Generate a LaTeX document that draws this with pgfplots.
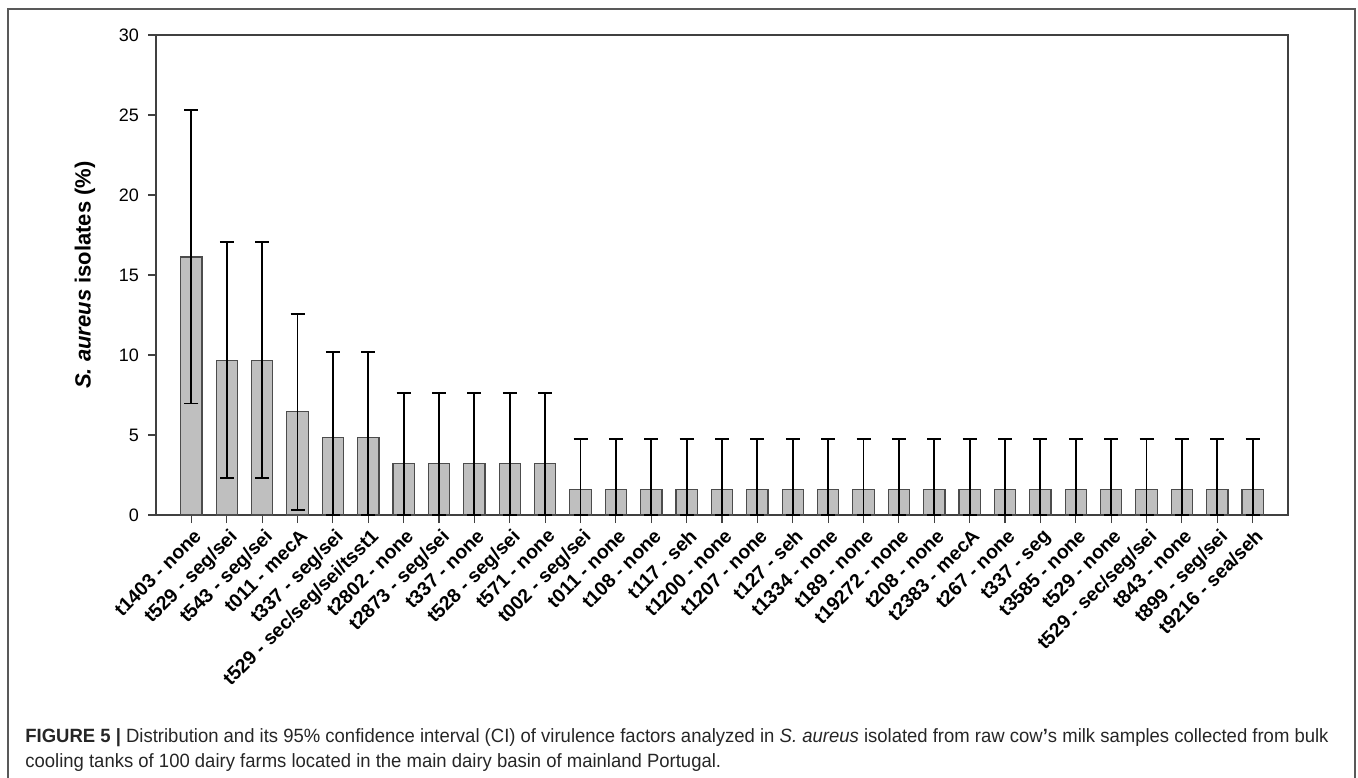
\documentclass[border=0pt]{standalone}
\usepackage{fontspec}
\setmainfont{Liberation Sans}
\newfontfamily\capfont[FakeStretch=0.963]{Liberation Sans}
\usepackage{pgfplots}
\usepackage{pgfplotstable}
\pgfplotsset{compat=1.18}

% share of isolates (%) with 95% CI bounds given as distances from the value
\pgfplotstableread{
x  y      ep    em
0  16.13  9.16  9.16
1  9.68   7.36  7.36
2  9.68   7.36  7.36
3  6.45   6.12  6.12
4  4.84   5.34  4.84
5  4.84   5.34  4.84
6  3.23   4.40  3.23
7  3.23   4.40  3.23
8  3.23   4.40  3.23
9  3.23   4.40  3.23
10 3.23   4.40  3.23
11 1.61   3.14  1.61
12 1.61   3.14  1.61
13 1.61   3.14  1.61
14 1.61   3.14  1.61
15 1.61   3.14  1.61
16 1.61   3.14  1.61
17 1.61   3.14  1.61
18 1.61   3.14  1.61
19 1.61   3.14  1.61
20 1.61   3.14  1.61
21 1.61   3.14  1.61
22 1.61   3.14  1.61
23 1.61   3.14  1.61
24 1.61   3.14  1.61
25 1.61   3.14  1.61
26 1.61   3.14  1.61
27 1.61   3.14  1.61
28 1.61   3.14  1.61
29 1.61   3.14  1.61
30 1.61   3.14  1.61
}\isolates

\begin{document}
\begin{tikzpicture}
\useasboundingbox (0,0) rectangle (679pt,-388.5pt);
\draw[black!65, line width=0.6pt] (4pt,-4.5pt) rectangle (677.5pt,-392pt);
\begin{axis}[
  at={(78pt,-257.5pt)}, anchor=south west,
  width=566pt, height=240pt, scale only axis,
  xmin=-1, xmax=31, ymin=0, ymax=30,
  xtick={0,...,30}, ytick={0,5,...,30},
  xtick pos=left, ytick pos=left,
  tick align=outside, major tick length=4pt,
  axis line style={black!75, line width=0.6pt},
  tick style={black!75, line width=0.6pt},
  /pgf/number format/assume math mode=true,
  y tick label style={font=\fontsize{9}{10}\selectfont, xshift=-1pt},
  xticklabels={t1403 - none, t529 - seg/sei, t543 - seg/sei, t011 - mecA,
    t337 - seg/sei, t529 - sec/seg/sei/tsst1, t2802 - none, t2873 - seg/sei,
    t337 - none, t528 - seg/sei, t571 - none, t002 - seg/sei, t011 - none,
    t108 - none, t117 - seh, t1200 - none, t1207 - none, t127 - seh,
    t1334 - none, t189 - none, t19272 - none, t208 - none, t2383 - mecA,
    t267 - none, t337 - seg, t3585 - none, t529 - none, t529 - sec/seg/sei,
    t843 - none, t899 - seg/sei, t9216 - sea/seh},
  x tick label style={rotate=45, anchor=north east, inner sep=1pt, yshift=-1pt,
    font=\bfseries\fontsize{9.7}{11}\selectfont},
  ylabel={\textbf{\textit{S. aureus} isolates (\%)}},
  ylabel style={at={(axis description cs:-0.0627,0.5)}, anchor=center,
    font=\fontsize{11}{13}\selectfont},
]
\addplot[ybar, bar width=10.65pt, fill=black!25, draw=black!70, line width=0.6pt,
  error bars/.cd, y dir=both, y explicit,
  error bar style={black, line width=0.9pt},
  error mark options={rotate=90, mark size=3.5pt, black, line width=0.9pt}]
  table[x=x, y=y, y error plus=ep, y error minus=em] {\isolates};
\end{axis}
\node[anchor=base west, inner sep=0, text=black!85, font=\capfont\fontsize{9.6}{11}\selectfont]
  at (12.5pt,-371pt) {\textbf{FIGURE 5 |} Distribution and its 95\% confidence interval (CI) of virulence factors analyzed in \textit{S. aureus} isolated from raw cow\textbf{’}s milk samples collected from bulk};
\node[anchor=base west, inner sep=0, text=black!85, font=\capfont\fontsize{9.6}{11}\selectfont]
  at (12.5pt,-383.5pt) {cooling tanks of 100 dairy farms located in the main dairy basin of mainland Portugal.};
\end{tikzpicture}
\end{document}
